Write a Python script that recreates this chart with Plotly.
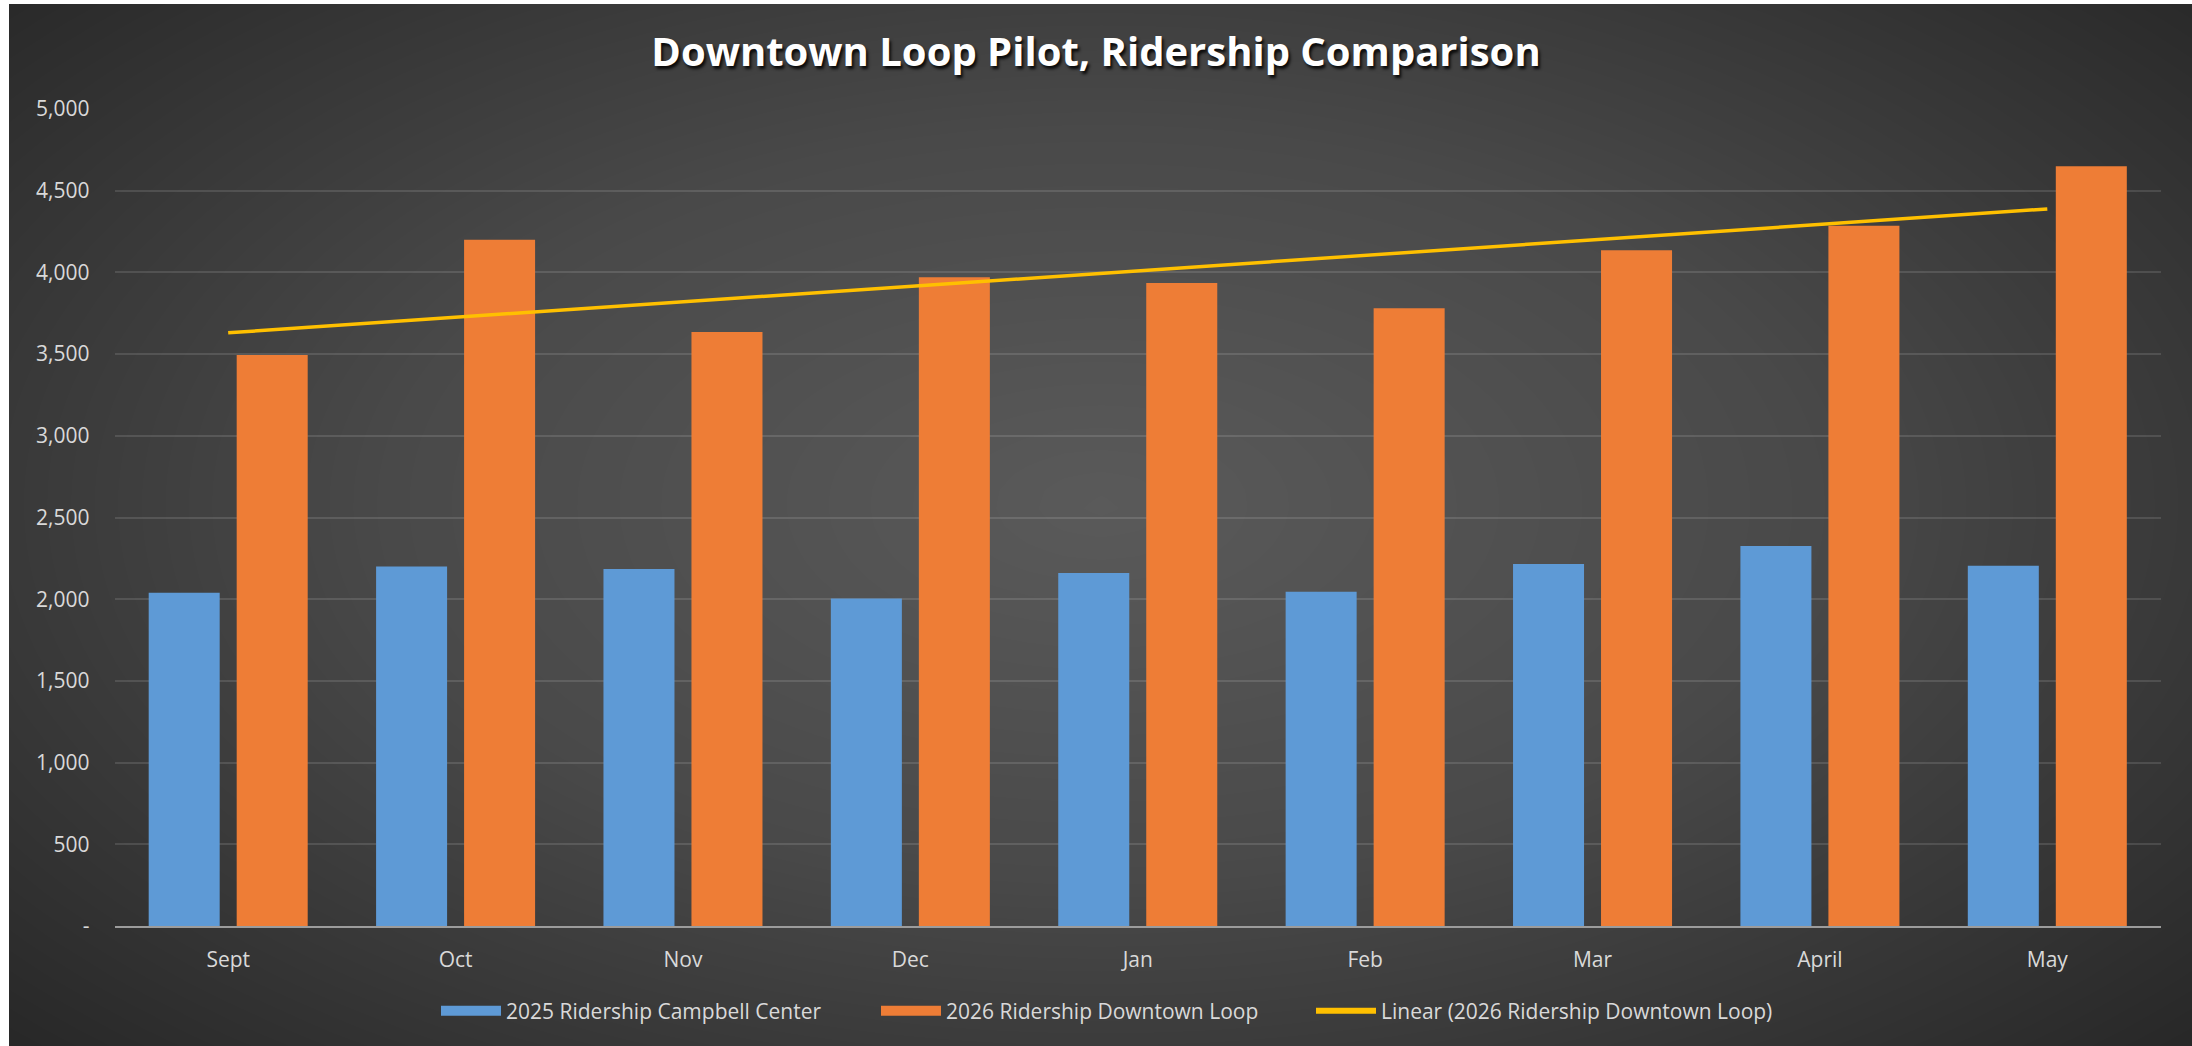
import numpy as np
import plotly.graph_objects as go

months = ["Sept", "Oct", "Nov", "Dec", "Jan", "Feb", "Mar", "April", "May"]
campbell_2025 = [2040, 2200, 2185, 2005, 2160, 2045, 2215, 2325, 2205]
downtown_2026 = [3495, 4200, 3635, 3970, 3935, 3780, 4135, 4285, 4650]
y_ticks = [0, 500, 1000, 1500, 2000, 2500, 3000, 3500, 4000, 4500, 5000]
y_tick_text = ["-", "500", "1,000", "1,500", "2,000", "2,500", "3,000", "3,500", "4,000", "4,500", "5,000"]

NAME_A = "2025 Ridership Campbell Center"
NAME_B = "2026 Ridership Downtown Loop"
NAME_T = "Linear (2026 Ridership Downtown Loop)"

W, H = 2192, 1046
FONT = "Open Sans"
TXT = "#d9d9d9"
BLUE = "#5e9ad6"
ORANGE = "#ee7d36"
GOLD = "#ffc000"

# linear trendline (least squares, as Excel computes it)
xi = np.arange(1, len(months) + 1)
slope, intercept = np.polyfit(xi, downtown_2026, 1)
trend = slope * xi + intercept

fig = go.Figure()

# decorative radial background on hidden axes (x/y)
gx = np.linspace(0, 1, 61)
gy = np.linspace(0, 1, 61)
GX, GY = np.meshgrid(gx, gy)
R = np.sqrt(((GX - 0.5) / 0.5) ** 2 + ((GY - 0.52) / 0.55) ** 2)
fig.add_trace(go.Heatmap(
    x=gx, y=gy, z=R, zsmooth="best", showscale=False, hoverinfo="skip",
    colorscale=[[0, "#5a5a5a"], [0.45, "#494949"], [1, "#242424"]],
    zmin=0, zmax=1.45, xaxis="x", yaxis="y", showlegend=False,
))

fig.add_trace(go.Bar(
    x=months, y=campbell_2025, name=NAME_A, showlegend=False, legendgroup="a",
    marker=dict(color=BLUE, line=dict(width=0)), xaxis="x2", yaxis="y2",
))
fig.add_trace(go.Bar(
    x=months, y=downtown_2026, name=NAME_B, showlegend=False, legendgroup="b",
    marker=dict(color=ORANGE, line=dict(width=0)), xaxis="x2", yaxis="y2",
))
fig.add_trace(go.Scatter(
    x=months, y=trend, mode="lines", name=NAME_T, showlegend=False, legendgroup="t",
    line=dict(color=GOLD, width=3.5), xaxis="x2", yaxis="y2",
))

# legend entries (wide swatches like the original)
fig.add_trace(go.Scatter(x=[None], y=[None], mode="lines", name=NAME_A, legendgroup="a",
                         legendwidth=365, line=dict(color=BLUE, width=15), xaxis="x2", yaxis="y2"))
fig.add_trace(go.Scatter(x=[None], y=[None], mode="lines", name=NAME_B, legendgroup="b",
                         legendwidth=360, line=dict(color=ORANGE, width=15), xaxis="x2", yaxis="y2"))
fig.add_trace(go.Scatter(x=[None], y=[None], mode="lines", name=NAME_T, legendgroup="t",
                         legendwidth=480, line=dict(color=GOLD, width=6), xaxis="x2", yaxis="y2"))

x0, x1 = 114.5 / W, 2161 / W
y0, y1 = (H - 926) / H, (H - 109) / H

fig.update_layout(
    width=W, height=H,
    margin=dict(l=0, r=0, t=0, b=0, autoexpand=False),
    paper_bgcolor="white",
    plot_bgcolor="rgba(0,0,0,0)",
    barmode="group", bargap=0.226, bargroupgap=0.193,
    font=dict(family=FONT, color=TXT, size=21),
    title=dict(
        text="Downtown Loop Pilot, Ridership Comparison",
        x=0.5, xref="paper", xanchor="center",
        y=1 - 52 / H, yref="paper", yanchor="middle", automargin=False,
        font=dict(family=FONT, size=40, color="white", weight="bold",
                  shadow="2px 3px 3px rgba(0,0,0,0.85)"),
    ),
    xaxis=dict(domain=[9 / W, 1], range=[0, 1], visible=False, fixedrange=True, automargin=False),
    yaxis=dict(domain=[0, 1 - 4 / H], range=[0, 1], visible=False, fixedrange=True, automargin=False),
    xaxis2=dict(
        domain=[x0, x1], anchor="y2", type="category", automargin=False,
        showgrid=False, showline=True, linecolor="#9c9c9c", linewidth=2,
        ticks="", tickfont=dict(size=21, color=TXT), ticklabelstandoff=14,
        zeroline=False,
    ),
    yaxis2=dict(
        domain=[y0, y1], anchor="x2", range=[0, 5000], automargin=False,
        tickvals=y_ticks, ticktext=y_tick_text,
        showgrid=True, gridcolor="rgba(255,255,255,0.12)", gridwidth=1.5,
        zeroline=False, showline=False, ticks="",
        tickfont=dict(size=21, color=TXT), ticklabelstandoff=24,
    ),
    legend=dict(
        orientation="h", x=436 / W, xanchor="left", y=1 - 1011 / H, yanchor="middle",
        font=dict(size=21, color=TXT), bgcolor="rgba(0,0,0,0)",
        itemwidth=60, traceorder="normal",
    ),
    showlegend=True,
)

fig.write_html("out.html", config={"displayModeBar": False},
               post_script="document.body.style.margin='0';")
